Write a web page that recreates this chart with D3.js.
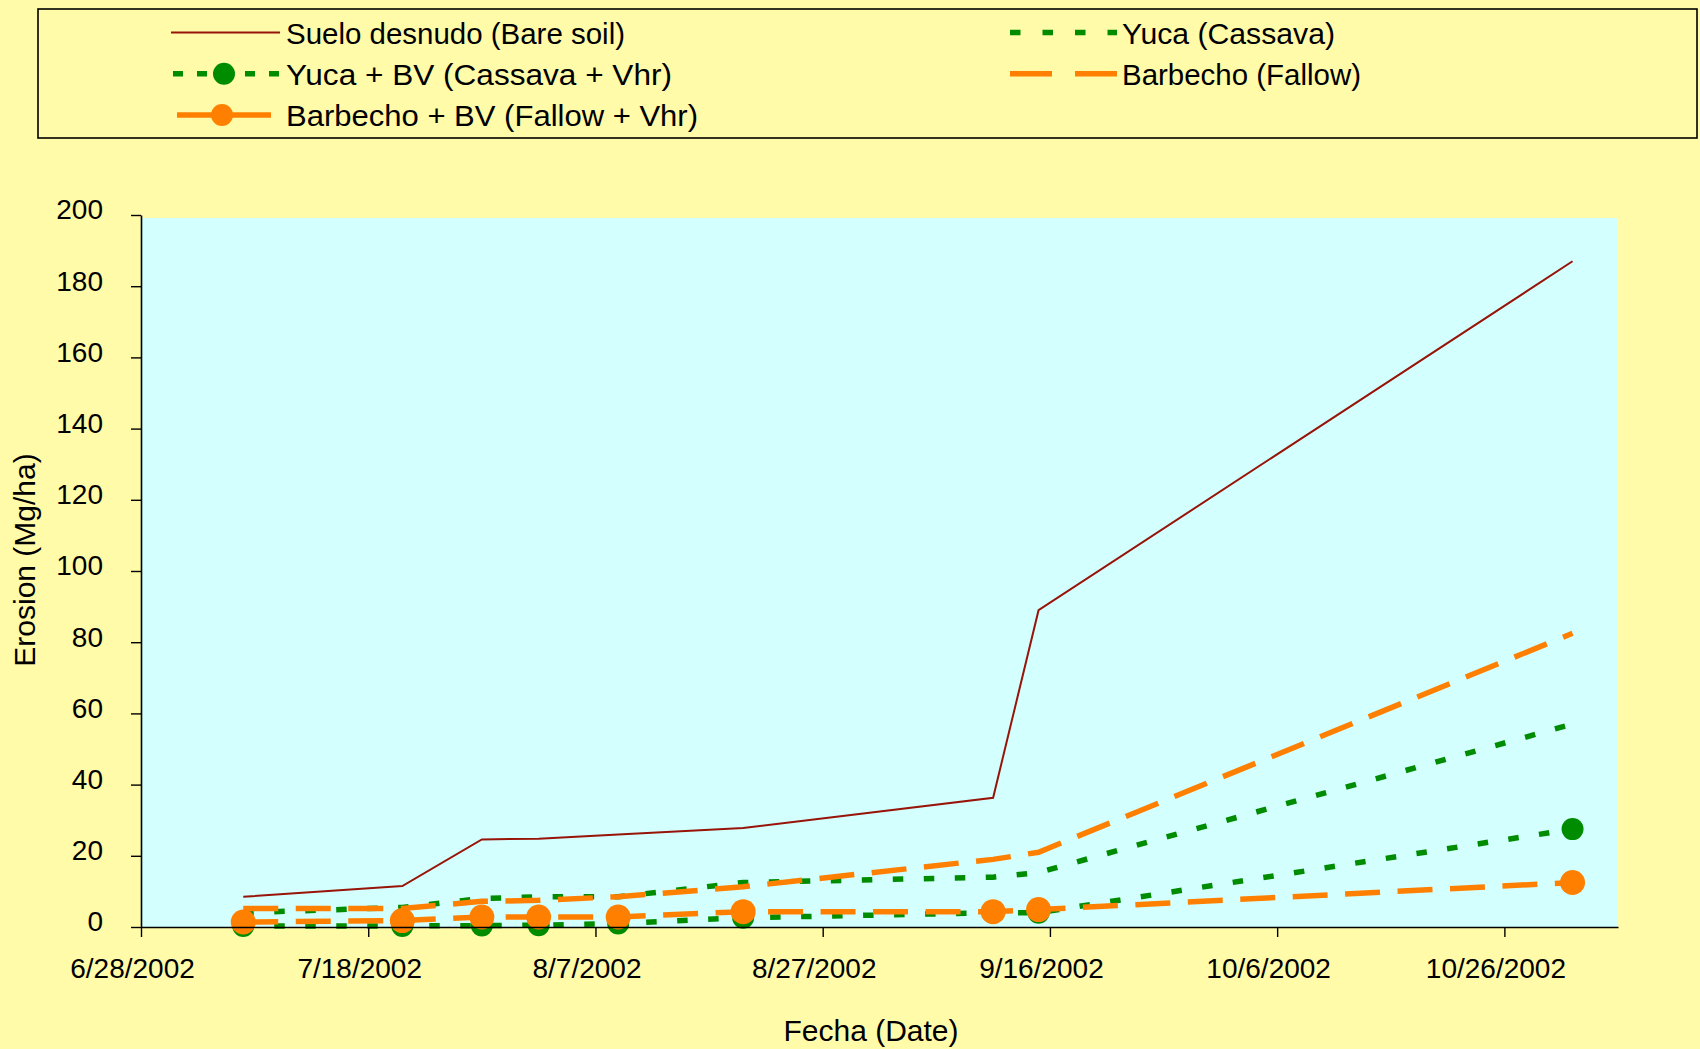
<!DOCTYPE html>
<html>
<head>
<meta charset="utf-8">
<script src="https://cdn.jsdelivr.net/npm/d3@7"></script>
<style>
  html, body { margin: 0; padding: 0; background: #FFFBA8; }
  svg { display: block; }
  text { font-family: "Liberation Sans", Arial, sans-serif; fill: #000; }
</style>
</head>
<body>
<svg id="chart" width="1700" height="1049"></svg>
<script>
// ---- Data ----
const dates = ["2002-07-07", "2002-07-21", "2002-07-28", "2002-08-02", "2002-08-09",
               "2002-08-20", "2002-09-11", "2002-09-15", "2002-11-01"];
const bareSoil   = [8.5, 11.5, 24.6, 24.8, 26.0, 27.8, 36.3, 89.0, 187.0];
const cassava    = [4.0, 5.5, 8.0, 8.5, 8.5, 12.5, 14.0, 15.3, 57.0];
const cassavaVhr = [0.3, 0.3, 0.4, 0.5, 1.0, 2.6, 4.0, 4.0, 27.5];
const fallow     = [5.2, 5.2, 7.2, 7.5, 8.5, 11.3, 19.0, 21.0, 82.5];
const fallowVhr  = [1.4, 1.8, 2.8, 2.8, 2.8, 4.3, 4.3, 4.9, 12.5];

const seriesNames = ["Suelo desnudo (Bare soil)", "Yuca (Cassava)", "Yuca + BV (Cassava + Vhr)",
                     "Barbecho (Fallow)", "Barbecho + BV (Fallow + Vhr)"];
const yTicks = [0, 20, 40, 60, 80, 100, 120, 140, 160, 180, 200];
const xTickDates = ["2002-06-28", "2002-07-18", "2002-08-07", "2002-08-27", "2002-09-16", "2002-10-06", "2002-10-26"];
const xTickLabels = ["6/28/2002", "7/18/2002", "8/7/2002", "8/27/2002", "9/16/2002", "10/6/2002", "10/26/2002"];
const xDomain = ["2002-06-28", "2002-11-05"];
const yTitle = "Erosion (Mg/ha)";
const xTitle = "Fecha (Date)";

// ---- Styles ----
const YELLOW = "#FFFBA8", CYAN = "#D3FFFF";
const RED = "#981408", GREEN = "#008C00", ORANGE = "#FF8000";
const styles = [
  { color: RED,    width: 2,   dash: null,        marker: 0  },
  { color: GREEN,  width: 5.5, dash: "10.5 20.5", marker: 0  },
  { color: GREEN,  width: 5.5, dash: "10.5 20.5", marker: 11 },
  { color: ORANGE, width: 5.5, dash: "35 17.5",   marker: 0  },
  { color: ORANGE, width: 5.5, dash: "35 17.5",   marker: 12.5 }
];
const seriesValues = [bareSoil, cassava, cassavaVhr, fallow, fallowVhr];

(function () {
  const parse = d3.utcParse("%Y-%m-%d");
  const svg = d3.select("#chart");
  svg.append("rect").attr("width", 1700).attr("height", 1049).attr("fill", YELLOW);

  const pLeft = 141, pRight = 1618, pBottom = 927, pTop = 215;
  const x = d3.scaleUtc().domain(xDomain.map(parse)).range([pLeft, pRight]);
  const y = d3.scaleLinear().domain([0, 200]).range([pBottom, pTop]);

  // plot area
  svg.append("rect")
    .attr("x", pLeft).attr("y", y(200) + 3)
    .attr("width", pRight - pLeft).attr("height", pBottom - y(200) - 3)
    .attr("fill", CYAN);

  // lines
  const line = d3.line().x(d => x(d.date)).y(d => y(d.value));
  const series = seriesNames.map((name, i) => ({
    name, style: styles[i],
    points: dates.map((dt, j) => ({ date: parse(dt), value: seriesValues[i][j] }))
  }));

  series.forEach(s => {
    const g = svg.append("g");
    g.append("path")
      .attr("d", line(s.points))
      .attr("fill", "none")
      .attr("stroke", s.style.color)
      .attr("stroke-width", s.style.width)
      .attr("stroke-dasharray", s.style.dash)
      .attr("stroke-linejoin", "miter")
      .attr("stroke-linecap", "butt");
    if (s.style.marker) {
      g.selectAll("circle").data(s.points).join("circle")
        .attr("cx", d => x(d.date)).attr("cy", d => y(d.value))
        .attr("r", s.style.marker).attr("fill", s.style.color);
    }
  });

  // y axis
  const yAxis = svg.append("g").attr("transform", `translate(${pLeft},0)`)
    .call(d3.axisLeft(y).tickValues(yTicks).tickSize(10).tickPadding(28).tickSizeOuter(0));
  yAxis.select(".domain").attr("stroke", "#000").attr("stroke-width", 1.6);
  yAxis.selectAll(".tick line").attr("stroke", "#000").attr("stroke-width", 1.4);
  yAxis.selectAll(".tick text").attr("font-size", 28).attr("fill", "#000")
    .attr("font-family", "Liberation Sans, Arial, sans-serif")
    .attr("transform", "translate(0,-5)");

  // x axis
  const tickDates = xTickDates.map(parse);
  const xAxis = svg.append("g").attr("transform", `translate(0,${pBottom})`)
    .call(d3.axisBottom(x).tickValues(tickDates).tickSize(10).tickPadding(21).tickSizeOuter(0)
      .tickFormat((d, i) => xTickLabels[i]));
  xAxis.select(".domain").attr("stroke", "#000").attr("stroke-width", 1.6);
  xAxis.selectAll(".tick line").attr("stroke", "#000").attr("stroke-width", 1.4);
  xAxis.selectAll(".tick text").attr("font-size", 28).attr("fill", "#000")
    .attr("font-family", "Liberation Sans, Arial, sans-serif")
    .attr("transform", "translate(-9,0)");

  // axis titles
  svg.append("text").attr("x", 871).attr("y", 1041).attr("text-anchor", "middle")
    .attr("font-size", 30).text(xTitle);
  svg.append("text").attr("transform", "translate(35,560) rotate(-90)")
    .attr("text-anchor", "middle").attr("font-size", 30).text(yTitle);

  // legend
  const lg = svg.append("g");
  lg.append("rect").attr("x", 38).attr("y", 9).attr("width", 1659).attr("height", 129)
    .attr("fill", YELLOW).attr("stroke", "#000").attr("stroke-width", 1.6);
  const legendPos = [
    { sx: 171, ex: 280, tx: 286, cy: 32.5, w: 339 },
    { sx: 1010, ex: 1117, tx: 1122, cy: 32.5, w: 213 },
    { sx: 173, ex: 280, tx: 286, cy: 73.7, w: 386 },
    { sx: 1010, ex: 1117, tx: 1122, cy: 73.7, w: 239 },
    { sx: 177, ex: 271, tx: 286, cy: 115, w: 412 }
  ];
  const legendDash = [null, "10.5 22", "10 14 0 0 10 14", "42 23", null];
  series.forEach((s, i) => {
    const p = legendPos[i];
    lg.append("line").attr("x1", p.sx).attr("x2", p.ex).attr("y1", p.cy).attr("y2", p.cy)
      .attr("stroke", s.style.color).attr("stroke-width", s.style.width)
      .attr("stroke-dasharray", legendDash[i]);
    if (s.style.marker) {
      lg.append("circle").attr("cx", (i === 2 ? 224 : 222)).attr("cy", p.cy).attr("r", 11)
        .attr("fill", s.style.color);
    }
    lg.append("text").attr("x", p.tx).attr("y", p.cy + 11).attr("font-size", 30)
      .attr("textLength", p.w).attr("lengthAdjust", "spacingAndGlyphs").text(s.name);
  });
})();
</script>
</body>
</html>
